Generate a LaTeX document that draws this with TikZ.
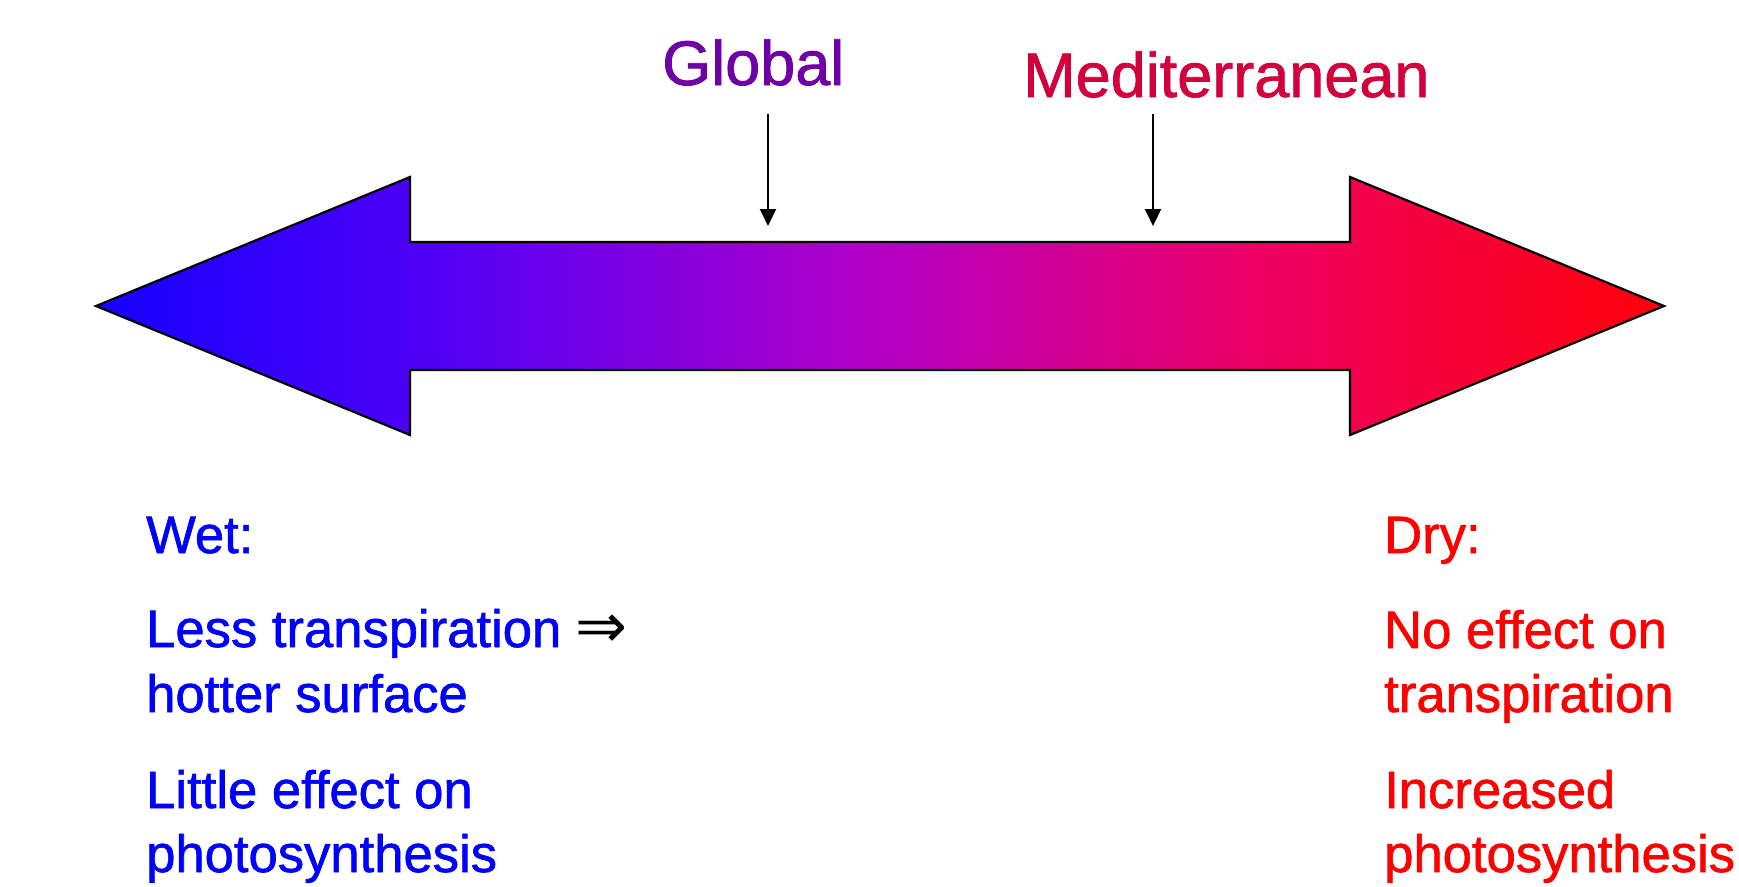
\documentclass[tikz,border=0pt]{standalone}
\usepackage{fontspec}
\setmainfont{Liberation Sans}
\newfontfamily\heavy{Liberation Sans}[FakeBold=1.2]
\newfontfamily\symfont{DejaVu Sans}
\usetikzlibrary{arrows.meta}
\definecolor{globcol}{RGB}{110,0,165}
\definecolor{medcol}{RGB}{210,0,60}
\definecolor{wetcol}{RGB}{0,0,255}
\definecolor{drycol}{RGB}{255,0,0}
\pgfdeclarehorizontalshading{arrowgrad}{100bp}{rgb(0bp)=(0.08,0,1); rgb(25bp)=(0.08,0,1); rgb(36.3bp)=(0.33,0,0.96); rgb(49.7bp)=(0.70,0,0.78); rgb(61.8bp)=(0.93,0,0.40); rgb(75bp)=(1,0,0.03); rgb(100bp)=(1,0,0.03)}
\tikzset{
  toplabel/.style={inner sep=0pt, anchor=base west, font=\heavy\fontsize{63}{63}\selectfont},
  bodytext/.style={inner sep=0pt, anchor=base west, font=\heavy\fontsize{52.6}{64}\selectfont},
  pointer/.style={line width=2pt, -{Triangle[width=16pt,length=17pt]}},
}
\begin{document}
\begin{tikzpicture}[x=1pt,y=-1pt]
\useasboundingbox (0,0) rectangle (1739,886);
% big double arrow
\shadedraw[shading=arrowgrad, draw=black, line width=2.2pt, line join=miter]
  (96,306) -- (410,177) -- (410,242) -- (1350,242) -- (1350,177) -- (1664,306)
  -- (1350,435) -- (1350,370) -- (410,370) -- (410,435) -- cycle;
% top labels
\node[toplabel, text=globcol] (glob) at (662,85) {Global};
\node[toplabel, text=medcol] (med) at (1023,97) {Mediterranean};
\coordinate (globtop) at (768,114);
\coordinate (globtip) at (768,226);
\coordinate (medtop) at (1153,114);
\coordinate (medtip) at (1153,226);
\draw[pointer] (globtop) -- (globtip);
\draw[pointer] (medtop) -- (medtip);
% wet side
\node[bodytext, text=wetcol] (wet) at (146,553) {Wet:};
\node[bodytext, text=wetcol] (wet1) at (146,647) {Less transpiration \textcolor{black}{\symfont\fontsize{62}{64}\selectfont ⇒}};
\node[bodytext, text=wetcol] (wet2) at (146,712) {hotter surface};
\node[bodytext, text=wetcol] (wet3) at (146,808) {Little effect on};
\node[bodytext, text=wetcol] (wet4) at (146,872) {photosynthesis};
% dry side
\node[bodytext, text=drycol] (dry) at (1384,553) {Dry:};
\node[bodytext, text=drycol] (dry1) at (1384,648) {No effect on};
\node[bodytext, text=drycol] (dry2) at (1384,712) {transpiration};
\node[bodytext, text=drycol] (dry3) at (1384,808) {Increased};
\node[bodytext, text=drycol] (dry4) at (1384,872) {photosynthesis};
\end{tikzpicture}
\end{document}
